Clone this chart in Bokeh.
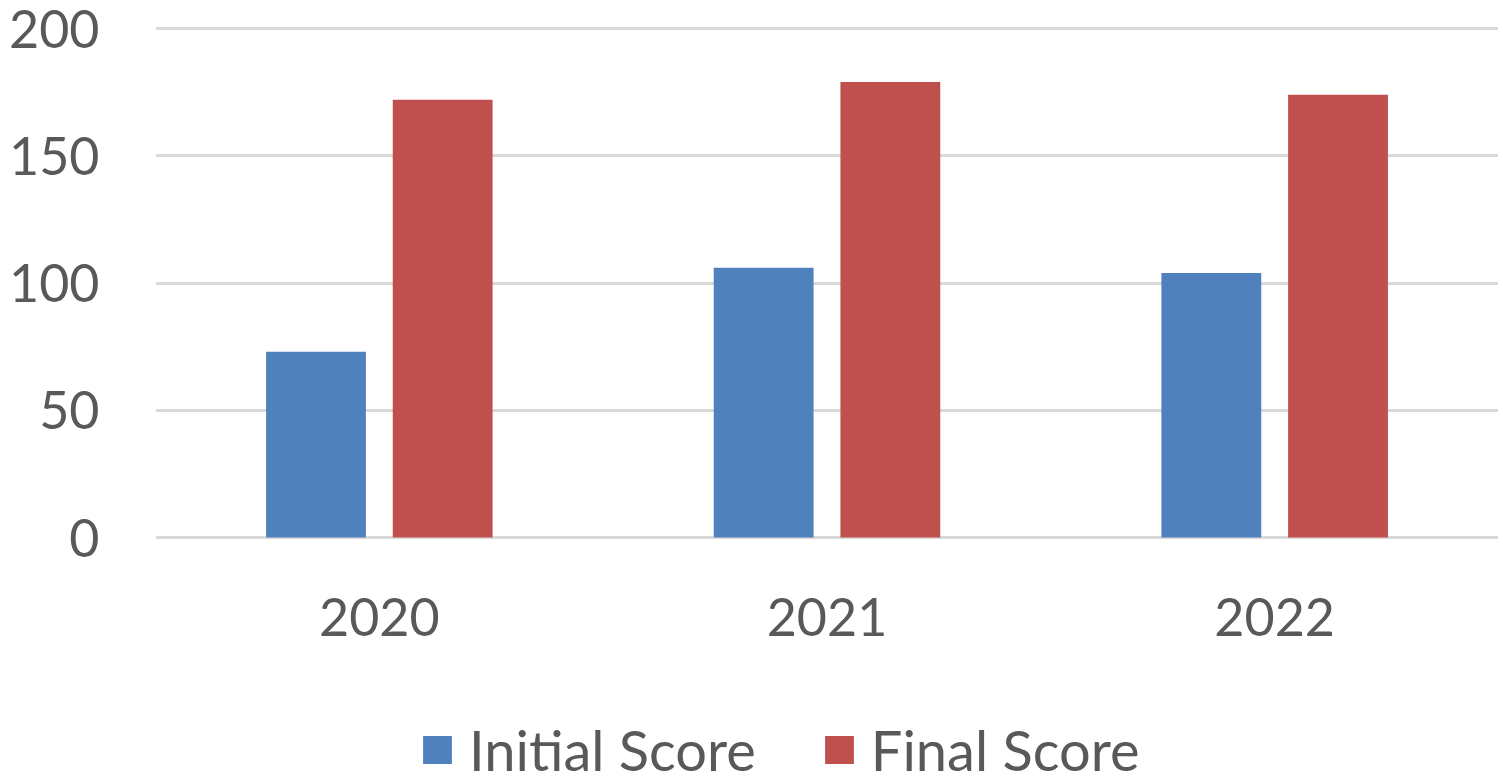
from bokeh.plotting import figure
from bokeh.models import FactorRange, Range1d, Legend, LegendItem, FixedTicker
from bokeh.transform import dodge
from bokeh.core.properties import value
from bokeh.embed import file_html
from bokeh.resources import INLINE

years = ["2020", "2021", "2022"]
initial_score = [73, 106, 104]
final_score = [172, 179, 174]
y_ticks = [0, 50, 100, 150, 200]

BLUE = "#4F81BD"
RED = "#C0504D"
FONT = "Lato"
TXT = "#595959"

W, H = 1498, 772
TOP, LEFT = 23, 155
PX_PER_UNIT = 2.545
frame_h = H - TOP
y_top = 202
y_bottom = y_top - frame_h / PX_PER_UNIT

p = figure(
    x_range=FactorRange(*years, range_padding=0),
    y_range=Range1d(y_bottom, y_top),
    width=W, height=H,
    output_backend="svg", toolbar_location=None,
    min_border_left=LEFT, min_border_right=0,
    min_border_top=TOP, min_border_bottom=0,
)
p.outline_line_color = None
p.background_fill_color = "white"
p.border_fill_color = "white"

data = dict(year=years, initial=initial_score, final=final_score)
r1 = p.vbar(x=dodge("year", -0.1415, range=p.x_range), top="initial", bottom=0, width=0.223,
            source=data, fill_color=BLUE, line_color=None)
r2 = p.vbar(x=dodge("year", 0.1415, range=p.x_range), top="final", bottom=0, width=0.223,
            source=data, fill_color=RED, line_color=None)

# category labels under the baseline
p.text(x=years, y=0, text=years, y_offset=79, text_align="center",
       text_baseline="alphabetic", text_font=value(FONT), text_font_size="52px",
       text_color=TXT)

p.xaxis.visible = False
p.xgrid.grid_line_color = None
p.ygrid.grid_line_color = "#D9D9D9"
p.ygrid.grid_line_width = 3
p.ygrid.ticker = FixedTicker(ticks=y_ticks)

p.yaxis.ticker = FixedTicker(ticks=y_ticks)
p.yaxis.axis_line_color = None
p.yaxis.major_tick_line_color = None
p.yaxis.minor_tick_line_color = None
p.yaxis.major_label_text_font = FONT
p.yaxis.major_label_text_font_size = "52px"
p.yaxis.major_label_text_color = TXT
p.yaxis.major_label_standoff = 50

legend = Legend(
    items=[LegendItem(label="Initial Score", renderers=[r1]),
           LegendItem(label="Final Score", renderers=[r2])],
    orientation="horizontal",
    location=(264, -11),
    glyph_width=36, glyph_height=35,
    label_text_font=FONT, label_text_font_size="56px", label_text_color=TXT,
    label_standoff=14, spacing=65, padding=0, margin=0,
    border_line_color=None, background_fill_alpha=0,
)
p.add_layout(legend, "center")

open("out.html", "w").write(file_html(p, INLINE))
